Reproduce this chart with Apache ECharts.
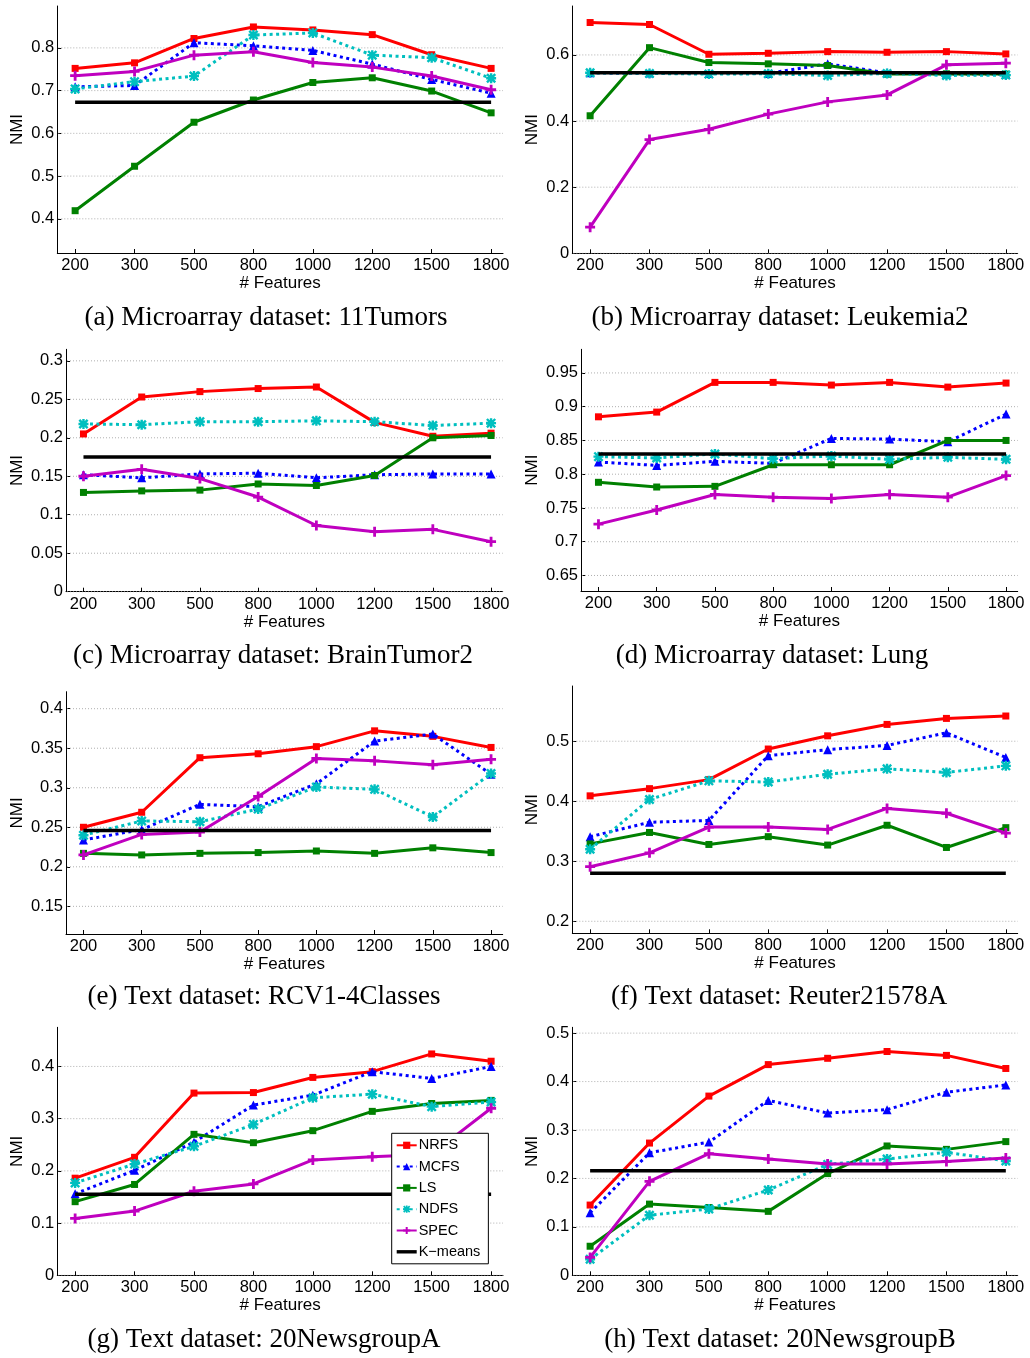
<!DOCTYPE html>
<html>
<head>
<meta charset="utf-8">
<title>NMI vs. number of selected features</title>
<script src="https://cdn.jsdelivr.net/npm/echarts@6/dist/echarts.min.js"></script>
<style>
  html, body { margin: 0; padding: 0; background: #ffffff; }
  #chart { width: 1030px; height: 1358px; }
</style>
</head>
<body>
<div id="chart"></div>
<script>
// ---- categories ----
const featureCounts = ['200', '300', '500', '800', '1000', '1200', '1500', '1800'];
const methods = ['NRFS', 'MCFS', 'LS', 'NDFS', 'SPEC', 'K\u2212means'];

// ---- (a) Microarray: 11Tumors ----
const tumors_NRFS = [0.752, 0.765, 0.822, 0.849, 0.842, 0.831, 0.784, 0.752];
const tumors_MCFS = [0.709, 0.712, 0.812, 0.805, 0.794, 0.762, 0.726, 0.694];
const tumors_LS   = [0.419, 0.523, 0.626, 0.678, 0.719, 0.730, 0.699, 0.648];
const tumors_NDFS = [0.704, 0.721, 0.734, 0.830, 0.835, 0.783, 0.777, 0.729];
const tumors_SPEC = [0.735, 0.745, 0.783, 0.791, 0.766, 0.755, 0.734, 0.702];
const tumors_KM = 0.673;
const tumors_ticks = [0.4, 0.5, 0.6, 0.7, 0.8];

// ---- (b) Microarray: Leukemia2 ----
const leuk_NRFS = [0.698, 0.692, 0.602, 0.605, 0.610, 0.608, 0.610, 0.603];
const leuk_MCFS = [0.546, 0.545, 0.544, 0.544, 0.573, 0.546, 0.542, 0.542];
const leuk_LS   = [0.416, 0.622, 0.577, 0.573, 0.568, 0.542, 0.543, 0.542];
const leuk_NDFS = [0.546, 0.544, 0.542, 0.543, 0.538, 0.544, 0.538, 0.539];
const leuk_SPEC = [0.079, 0.344, 0.375, 0.421, 0.458, 0.479, 0.570, 0.575];
const leuk_KM = 0.546;
const leuk_ticks = [0, 0.2, 0.4, 0.6];

// ---- (c) Microarray: BrainTumor2 ----
const brain_NRFS = [0.205, 0.253, 0.260, 0.264, 0.266, 0.220, 0.202, 0.206];
const brain_MCFS = [0.152, 0.148, 0.153, 0.154, 0.148, 0.152, 0.153, 0.153];
const brain_LS   = [0.129, 0.131, 0.132, 0.140, 0.138, 0.151, 0.200, 0.203];
const brain_NDFS = [0.218, 0.217, 0.221, 0.221, 0.222, 0.221, 0.216, 0.219];
const brain_SPEC = [0.150, 0.159, 0.147, 0.123, 0.086, 0.078, 0.081, 0.065];
const brain_KM = 0.175;
const brain_ticks = [0, 0.05, 0.1, 0.15, 0.2, 0.25, 0.3];

// ---- (d) Microarray: Lung ----
const lung_NRFS = [0.885, 0.892, 0.936, 0.936, 0.932, 0.936, 0.929, 0.935];
const lung_MCFS = [0.818, 0.813, 0.819, 0.816, 0.853, 0.852, 0.848, 0.889];
const lung_LS   = [0.788, 0.781, 0.782, 0.814, 0.814, 0.814, 0.850, 0.850];
const lung_NDFS = [0.826, 0.824, 0.830, 0.823, 0.827, 0.822, 0.825, 0.822];
const lung_SPEC = [0.726, 0.747, 0.770, 0.766, 0.764, 0.770, 0.766, 0.798];
const lung_KM = 0.830;
const lung_ticks = [0.65, 0.7, 0.75, 0.8, 0.85, 0.9, 0.95];

// ---- (e) Text: RCV1-4Classes ----
const rcv_NRFS = [0.250, 0.269, 0.338, 0.343, 0.352, 0.372, 0.365, 0.351];
const rcv_MCFS = [0.234, 0.247, 0.279, 0.276, 0.305, 0.359, 0.368, 0.317];
const rcv_LS   = [0.217, 0.215, 0.217, 0.218, 0.220, 0.217, 0.224, 0.218];
const rcv_NDFS = [0.240, 0.258, 0.257, 0.273, 0.301, 0.298, 0.263, 0.318];
const rcv_SPEC = [0.215, 0.241, 0.244, 0.289, 0.337, 0.334, 0.329, 0.336];
const rcv_KM = 0.246;
const rcv_ticks = [0.15, 0.2, 0.25, 0.3, 0.35, 0.4];

// ---- (f) Text: Reuter21578A ----
const reuter_NRFS = [0.409, 0.421, 0.436, 0.487, 0.509, 0.528, 0.538, 0.542];
const reuter_MCFS = [0.341, 0.365, 0.368, 0.476, 0.486, 0.493, 0.514, 0.473];
const reuter_LS   = [0.329, 0.348, 0.328, 0.341, 0.327, 0.360, 0.323, 0.356];
const reuter_NDFS = [0.320, 0.403, 0.434, 0.432, 0.445, 0.454, 0.448, 0.459];
const reuter_SPEC = [0.291, 0.314, 0.357, 0.357, 0.353, 0.388, 0.380, 0.347];
const reuter_KM = 0.280;
const reuter_ticks = [0.2, 0.3, 0.4, 0.5];

// ---- (g) Text: 20NewsgroupA ----
const newsA_NRFS = [0.186, 0.226, 0.349, 0.350, 0.379, 0.390, 0.424, 0.410];
const newsA_MCFS = [0.156, 0.201, 0.255, 0.326, 0.345, 0.390, 0.377, 0.400];
const newsA_LS   = [0.141, 0.174, 0.270, 0.254, 0.277, 0.314, 0.329, 0.335];
const newsA_NDFS = [0.177, 0.213, 0.247, 0.289, 0.340, 0.347, 0.323, 0.332];
const newsA_SPEC = [0.109, 0.123, 0.161, 0.175, 0.221, 0.227, 0.232, 0.320];
const newsA_KM = 0.155;
const newsA_ticks = [0, 0.1, 0.2, 0.3, 0.4];

// ---- (h) Text: 20NewsgroupB ----
const newsB_NRFS = [0.145, 0.273, 0.370, 0.435, 0.448, 0.462, 0.454, 0.427];
const newsB_MCFS = [0.129, 0.253, 0.275, 0.361, 0.335, 0.342, 0.378, 0.393];
const newsB_LS   = [0.060, 0.147, 0.140, 0.132, 0.210, 0.267, 0.260, 0.276];
const newsB_NDFS = [0.033, 0.124, 0.137, 0.176, 0.229, 0.240, 0.254, 0.236];
const newsB_SPEC = [0.037, 0.194, 0.251, 0.240, 0.230, 0.230, 0.235, 0.242];
const newsB_KM = 0.216;
const newsB_ticks = [0, 0.1, 0.2, 0.3, 0.4, 0.5];

// ---- panel layout: plot box [left, top, right, bottom], y range, caption ----
const panels = [
  { series: [tumors_NRFS, tumors_MCFS, tumors_LS, tumors_NDFS, tumors_SPEC], km: tumors_KM, ticks: tumors_ticks,
    yMin: 0.32, yMax: 0.898, box: [57.3, 6, 503, 253], col: 0,
    caption: '(a) Microarray dataset: 11Tumors', capX: 266, capY: 318 },
  { series: [leuk_NRFS, leuk_MCFS, leuk_LS, leuk_NDFS, leuk_SPEC], km: leuk_KM, ticks: leuk_ticks,
    yMin: 0, yMax: 0.748, box: [572.3, 6, 1017.7, 253.3], col: 1,
    caption: '(b) Microarray dataset: Leukemia2', capX: 780, capY: 318 },
  { series: [brain_NRFS, brain_MCFS, brain_LS, brain_NDFS, brain_SPEC], km: brain_KM, ticks: brain_ticks,
    yMin: 0, yMax: 0.315, box: [66, 349.3, 502.7, 591.7], col: 0,
    caption: '(c) Microarray dataset: BrainTumor2', capX: 273, capY: 656 },
  { series: [lung_NRFS, lung_MCFS, lung_LS, lung_NDFS, lung_SPEC], km: lung_KM, ticks: lung_ticks,
    yMin: 0.627, yMax: 0.985, box: [581, 349.3, 1017.7, 591], col: 1,
    caption: '(d) Microarray dataset: Lung', capX: 772, capY: 656 },
  { series: [rcv_NRFS, rcv_MCFS, rcv_LS, rcv_NDFS, rcv_SPEC], km: rcv_KM, ticks: rcv_ticks,
    yMin: 0.115, yMax: 0.4215, box: [66, 691.7, 502.7, 934], col: 0,
    caption: '(e) Text dataset: RCV1-4Classes', capX: 264, capY: 997 },
  { series: [reuter_NRFS, reuter_MCFS, reuter_LS, reuter_NDFS, reuter_SPEC], km: reuter_KM, ticks: reuter_ticks,
    yMin: 0.18, yMax: 0.592, box: [572.3, 686, 1017.7, 933.3], col: 1,
    caption: '(f) Text dataset: Reuter21578A', capX: 779, capY: 997 },
  { series: [newsA_NRFS, newsA_MCFS, newsA_LS, newsA_NDFS, newsA_SPEC], km: newsA_KM, ticks: newsA_ticks,
    yMin: 0, yMax: 0.475, box: [57.3, 1027.3, 503, 1275.3], col: 0,
    caption: '(g) Text dataset: 20NewsgroupA', capX: 264, capY: 1340 },
  { series: [newsB_NRFS, newsB_MCFS, newsB_LS, newsB_NDFS, newsB_SPEC], km: newsB_KM, ticks: newsB_ticks,
    yMin: 0, yMax: 0.512, box: [572.3, 1027.3, 1017.7, 1275.3], col: 1,
    caption: '(h) Text dataset: 20NewsgroupB', capX: 780, capY: 1340 }
];

// ---- marker shapes ----
const plusPath = 'path://M3.6,0H6.4V3.6H10V6.4H6.4V10H3.6V6.4H0V3.6H3.6Z';
const starPath = 'path://M3.8,0H6.2V10H3.8Z M0,3.8H10V6.2H0Z M1.7,0L10,8.3L8.3,10L0,1.7Z M8.3,0L10,1.7L1.7,10L0,8.3Z';
// legend swatch for the baseline: a thick bar centred in the icon box
const baselineIcon = 'path://M0,0 M0,2.8H20V6.2H0Z M20,9';

const methodStyles = [
  { color: '#ff0000', dash: 'solid', symbol: 'rect', size: 7 },
  { color: '#0000ff', dash: [3, 3.5], symbol: 'triangle', size: 9 },
  { color: '#008000', dash: 'solid', symbol: 'rect', size: 7 },
  { color: '#00bfbf', dash: [3, 3.5], symbol: starPath, size: 10 },
  { color: '#bf00bf', dash: 'solid', symbol: plusPath, size: 10 }
];

const FONT = 'Liberation Sans';
const tickIdx = featureCounts.map((_, k) => k + 1);

const grids = [], xAxes = [], yAxes = [], series = [], graphics = [];

panels.forEach((p, i) => {
  const [l, t, r, b] = p.box;
  grids.push({ left: l, top: t, width: r - l, height: b - t, containLabel: false });

  xAxes.push({
    type: 'value', gridIndex: i, min: 0.7, max: 8.2,
    name: '# Features', nameLocation: 'middle', nameGap: 20,
    nameTextStyle: { fontFamily: FONT, fontSize: 17, color: '#000' },
    axisLine: { show: true, onZero: false, lineStyle: { color: '#000', width: 1 } },
    axisTick: { show: true, inside: true, length: 4, customValues: tickIdx, lineStyle: { color: '#000', width: 1 } },
    axisLabel: { customValues: tickIdx, margin: 4, fontFamily: FONT, fontSize: 16.5, color: '#000',
                 formatter: v => featureCounts[Math.round(v) - 1] },
    splitLine: { show: false }
  });

  yAxes.push({
    type: 'value', gridIndex: i, min: p.yMin, max: p.yMax,
    name: 'NMI', nameLocation: 'middle', nameRotate: 90,
    nameGap: l - 515 * p.col - 26,
    nameTextStyle: { fontFamily: FONT, fontSize: 17, color: '#000' },
    axisLine: { show: true, onZero: false, lineStyle: { color: '#000', width: 1 } },
    axisTick: { show: true, inside: true, length: 4, customValues: p.ticks, lineStyle: { color: '#000', width: 1 } },
    axisLabel: { customValues: p.ticks, margin: 3, fontFamily: FONT, fontSize: 16.5, color: '#000',
                 formatter: v => String(+v.toFixed(3)) },
    splitLine: { show: false }
  });

  // dotted horizontal grid lines at the y ticks
  series.push({
    type: 'custom', xAxisIndex: i, yAxisIndex: i, silent: true, z: 1,
    data: p.ticks.map(v => [1, v]),
    renderItem: (params, api) => {
      const cs = params.coordSys;
      const y = api.coord([1, api.value(1)])[1];
      return {
        type: 'line',
        shape: { x1: cs.x + 1, y1: y, x2: cs.x + cs.width, y2: y },
        style: { stroke: '#9a9a9a', lineWidth: 0.8, lineDash: [1, 2] }
      };
    }
  });

  p.series.forEach((vals, m) => {
    const st = methodStyles[m];
    series.push({
      type: 'line', name: methods[m], xAxisIndex: i, yAxisIndex: i, z: 3 + m,
      data: vals.map((v, k) => [k + 1, v]),
      symbol: st.symbol, symbolSize: st.size, showSymbol: true,
      lineStyle: { color: st.color, width: 3, type: st.dash, cap: 'butt' },
      itemStyle: { color: st.color, borderWidth: 0 },
      emphasis: { disabled: true }, animation: false
    });
  });

  // K-means baseline: one constant score at every feature count
  series.push({
    type: 'line', name: methods[5], xAxisIndex: i, yAxisIndex: i, z: 10,
    data: featureCounts.map((_, k) => [k + 1, p.km]),
    symbol: 'none', showSymbol: false,
    lineStyle: { color: '#000', width: 3.5 },
    itemStyle: { color: '#000' },
    emphasis: { disabled: true }, animation: false
  });

  graphics.push({
    type: 'text', x: p.capX, y: p.capY, silent: true,
    style: { text: p.caption, align: 'center', verticalAlign: 'middle',
             fontFamily: 'Liberation Serif', fontSize: 27, fill: '#000' }
  });
});

const legendData = methods.map((name, m) => m === 5 ? { name, icon: baselineIcon } : { name });

const chart = echarts.init(document.getElementById('chart'), null, { renderer: 'canvas' });
chart.setOption({
  backgroundColor: '#ffffff',
  animation: false,
  grid: grids,
  xAxis: xAxes,
  yAxis: yAxes,
  series: series,
  legend: {
    data: legendData, selectedMode: false, orient: 'vertical',
    left: 391.7, top: 1133.3, z: 50,
    itemWidth: 20, itemHeight: 9, itemGap: 5.3,
    padding: [4, 8, 4, 4],
    backgroundColor: '#ffffff', borderColor: '#000', borderWidth: 1,
    textStyle: { fontFamily: FONT, fontSize: 14.5, lineHeight: 16, color: '#000', padding: [0, 0, 0, -3] }
  },
  graphic: graphics
});
</script>
</body>
</html>
